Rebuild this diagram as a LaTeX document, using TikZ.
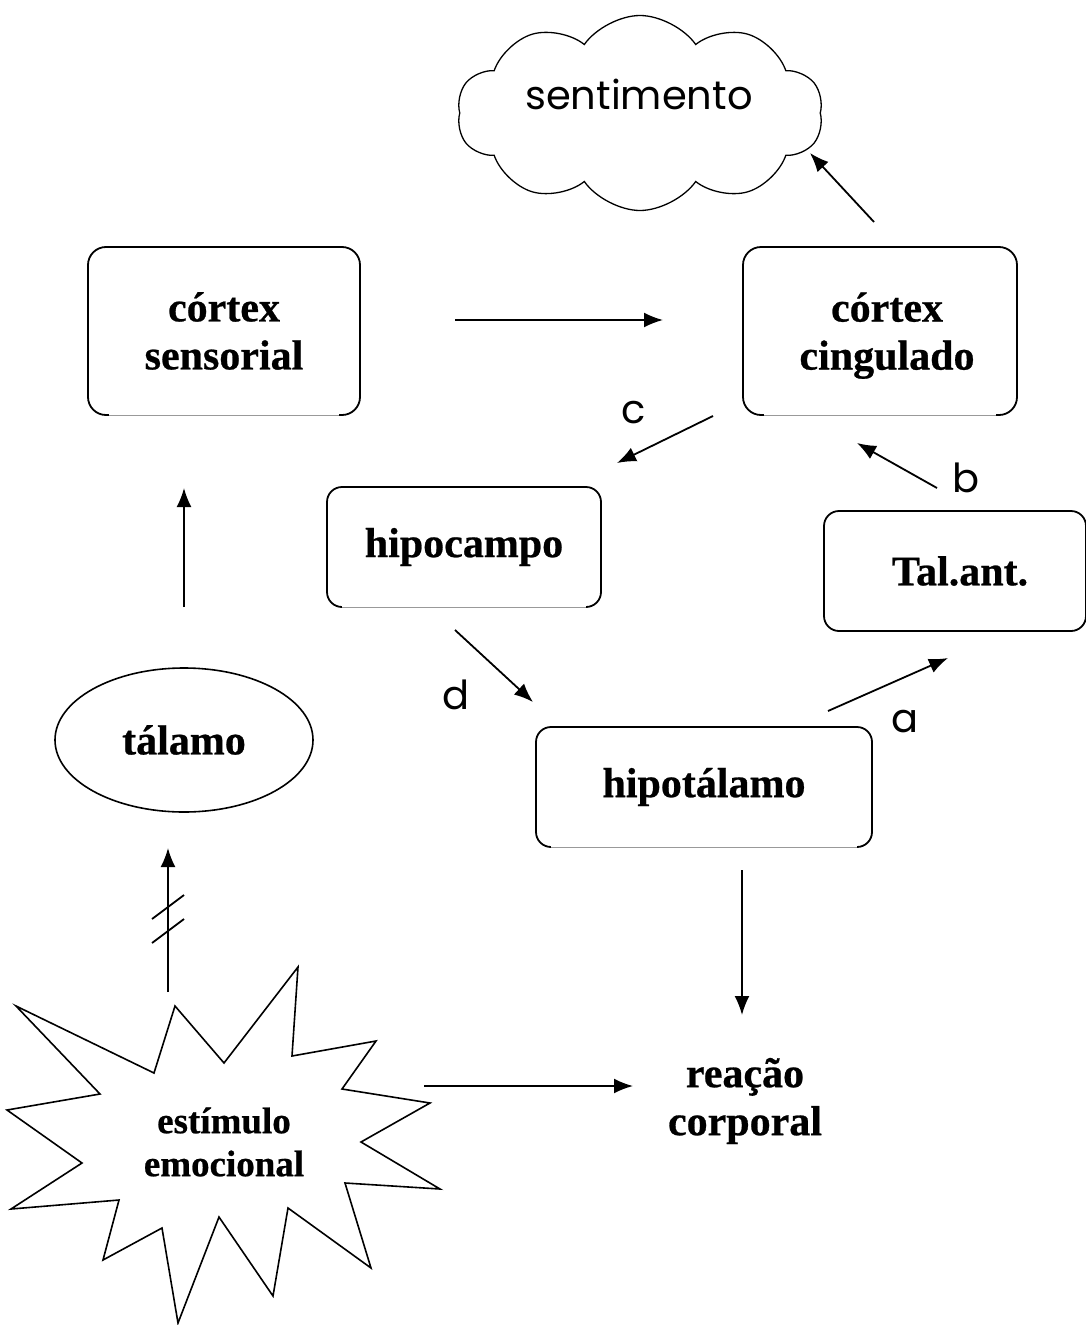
\documentclass[tikz,border=0pt]{standalone}
\usepackage{fontspec}
\setmainfont{Liberation Serif}[BoldFeatures={FakeBold=0.6}]
\newfontfamily\lblfont{Poppins}
\usetikzlibrary{arrows.meta,shapes.geometric,shapes.symbols}
\begin{document}
\begin{tikzpicture}[x=1pt,y=-1pt,
  box/.style={draw,line width=1.8pt,rounded corners=18pt,inner sep=0pt,align=center,
    font=\fontsize{42}{48}\selectfont\bfseries},
  arr/.style={line width=1.8pt,-{Latex[length=19pt,width=15pt]}},
  lbl/.style={font=\lblfont\fontsize{40}{44}\selectfont,inner sep=0pt},
  boldtxt/.style={align=center,inner sep=0pt,font=\fontsize{42}{48}\selectfont\bfseries},
  bottomfix/.style={white,line width=3pt},
  bottomgray/.style={black!40,line width=1pt}]
\useasboundingbox (0,0) rectangle (1086,1325);

% cloud
\node[cloud,draw,line width=1.3pt,cloud puffs=10,cloud puff arc=110,aspect=1.85,
  minimum width=366pt,minimum height=195pt,inner sep=0pt] (cloud) at (640,113) {};
\node[lbl] (sent) at (639,94) {sentimento};

% boxes
\node[box,minimum width=272pt,minimum height=168pt] (sens) at (224,331) {córtex\\sensorial};
\node[box,minimum width=274pt,minimum height=168pt] (cing) at (880,331) {\hspace*{14pt}córtex\\\hspace*{14pt}\raisebox{0pt}[\height][0pt]{cingulado}};
\node[box,rounded corners=15pt,minimum width=274pt,minimum height=120pt] (hipo) at (464,547) {hipocampo};
\node[box,rounded corners=15pt,minimum width=262pt,minimum height=120pt] (tal) at (955,571) {\hspace*{10pt}Tal.ant.};
\node[box,rounded corners=15pt,minimum width=336pt,minimum height=120pt] (hipot) at (704,787) {hipotálamo};
\node[ellipse,draw,line width=1.6pt,minimum width=258pt,minimum height=144pt,inner sep=0pt,
  font=\fontsize{42}{48}\selectfont\bfseries] (talamo) at (184,740) {tálamo};

% gray bottom edges
\foreach \b/\r in {sens/22,cing/22,hipo/16,hipot/16}{
  \draw[bottomfix] ([xshift=\r pt]\b.south west) -- ([xshift=-\r pt]\b.south east);
  \draw[bottomgray] ([xshift=\r pt]\b.south west) -- ([xshift=-\r pt]\b.south east);
}

% reaction text
\node[boldtxt] (reac) at (745,1101) {reação\\corporal};

% star
\draw[line width=1.6pt,line join=miter]
  (16,1006) -- (154,1073) -- (175,1006) -- (224,1063) -- (298,967) -- (292,1056)
  -- (376,1041) -- (342,1089) -- (430,1103) -- (361,1142) -- (440,1189) -- (345,1183)
  -- (371,1268) -- (288,1208) -- (273,1296) -- (219,1217) -- (178,1323) -- (162,1228)
  -- (103,1260) -- (119,1200) -- (11,1209) -- (82,1163) -- (7,1110) -- (100,1094) -- cycle;
\node[boldtxt,font=\fontsize{37}{43}\selectfont\bfseries] (estim) at (224,1142) {estímulo\\emocional};

% arrow endpoints
\coordinate (s1) at (455,320); \coordinate (c1) at (663,320);
\coordinate (c2) at (874,222); \coordinate (cl) at (810,153);
\coordinate (c3) at (713,416); \coordinate (h1) at (617,463);
\coordinate (t1) at (937,488); \coordinate (c4) at (857,443);
\coordinate (h2) at (455,630); \coordinate (ht1) at (533,702);
\coordinate (ht2) at (828,711); \coordinate (t2) at (948,658);
\coordinate (ht3) at (742,870); \coordinate (r1) at (742,1015);
\coordinate (e1) at (424,1086); \coordinate (r2) at (633,1086);
\coordinate (ta1) at (184,607); \coordinate (s2) at (184,488);
\coordinate (e2) at (168,992); \coordinate (ta2) at (168,848);

\draw[arr] (s1) -- (c1);
\draw[arr] (c2) -- (cl);
\draw[arr] (c3) -- (h1);
\draw[arr] (t1) -- (c4);
\draw[arr] (h2) -- (ht1);
\draw[arr] (ht2) -- (t2);
\draw[arr] (ht3) -- (r1);
\draw[arr] (e1) -- (r2);
\draw[arr] (ta1) -- (s2);
\draw[arr] (e2) -- (ta2);
\draw[line width=1.8pt] (152,919) -- (184,895);
\draw[line width=1.8pt] (152,943) -- (184,919);

% labels
\node[lbl] (lc) at (634,413) {c};
\node[lbl] (lb) at (966,478) {b};
\node[lbl] (ld) at (456,695) {d};
\node[lbl] (la) at (905,722) {a};
\end{tikzpicture}
\end{document}
